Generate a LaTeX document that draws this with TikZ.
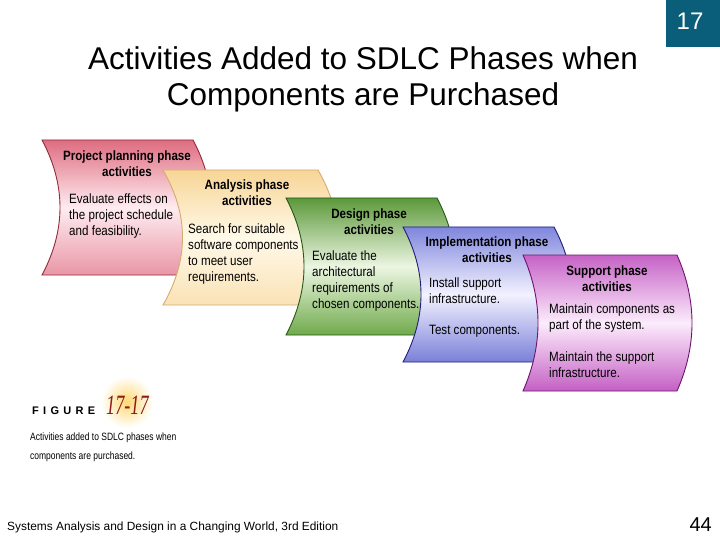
\documentclass[tikz,border=0pt]{standalone}
\usepackage{fontspec}
\setmainfont{Liberation Sans}
\newfontfamily\nar[FakeStretch=0.86]{Liberation Sans}
\newfontfamily\capfont[FakeStretch=0.8]{Liberation Sans}
\newfontfamily\serifit[FakeStretch=0.65]{Liberation Serif}
\definecolor{teal17}{HTML}{0B5E79}
\definecolor{figred}{HTML}{8E1B1B}
\definecolor{pkT}{RGB}{222,108,128}\definecolor{pkM}{RGB}{255,236,240}\definecolor{pkB}{RGB}{232,150,166}\definecolor{pkD}{RGB}{150,40,60}
\definecolor{ylT}{RGB}{247,213,150}\definecolor{ylM}{RGB}{255,249,232}\definecolor{ylB}{RGB}{250,226,182}\definecolor{ylD}{RGB}{212,172,110}
\definecolor{grT}{RGB}{92,152,58}\definecolor{grM}{RGB}{236,246,226}\definecolor{grB}{RGB}{112,170,76}\definecolor{grD}{RGB}{38,88,20}
\definecolor{blT}{RGB}{128,134,220}\definecolor{blM}{RGB}{242,242,255}\definecolor{blB}{RGB}{122,128,216}\definecolor{blD}{RGB}{30,30,120}
\definecolor{puT}{RGB}{198,98,198}\definecolor{puM}{RGB}{252,236,252}\definecolor{puB}{RGB}{196,96,196}\definecolor{puD}{RGB}{110,20,110}
\tikzset{
  cardbase/.style={line width=0.9pt},
  pinkcard/.style={cardbase, draw=pkD, top color=pkT, bottom color=pkB, middle color=pkM},
  yellowcard/.style={cardbase, draw=ylD, top color=ylT, bottom color=ylB, middle color=ylM},
  greencard/.style={cardbase, draw=grD, top color=grT, bottom color=grB, middle color=grM},
  bluecard/.style={cardbase, draw=blD, top color=blT, bottom color=blB, middle color=blM},
  purplecard/.style={cardbase, draw=puD, top color=puT, bottom color=puB, middle color=puM},
  head/.style={anchor=north, inner sep=0pt, align=center, font=\nar\bfseries\fontsize{13.5}{16}\selectfont},
  body/.style={anchor=north west, inner sep=0pt, align=left, font=\nar\fontsize{13.5}{16}\selectfont},
}
\newcommand{\drawcard}[6]{% style, x0, y0, w, h, bulge
  \path[#1] (#2,#3) -- ({#2+#4},#3)
    .. controls ({#2+#4+#6},{#3+#5/3}) and ({#2+#4+#6},{#3+2*#5/3}) .. ({#2+#4},{#3+#5})
    -- (#2,{#3+#5})
    .. controls ({#2+#6},{#3+2*#5/3}) and ({#2+#6},{#3+#5/3}) .. (#2,#3) -- cycle;}
\newcommand{\fr}{\rule{0pt}{10pt}}
\begin{document}
\begin{tikzpicture}[x=1pt,y=-1pt]
\useasboundingbox (0,0) rectangle (720,540);
\fill[white] (0,0) rectangle (720,540);

% page number box
\fill[teal17] (666,0) rectangle (720,47);
\node[text=white, font=\fontsize{24}{28}\selectfont] (chap) at (690,21) {17};

% title
\node[anchor=base, inner sep=0pt, font=\fontsize{31.5}{38}\selectfont] (title1) at (363,69.5) {Activities Added to SDLC Phases when};
\node[anchor=base, inner sep=0pt, font=\fontsize{31.5}{38}\selectfont] (title2) at (363,106) {Components are Purchased};

% cards
\drawcard{pinkcard}{42}{140}{151}{135}{24}
\node[head] (h1) at (127,151) {Project planning phase\\activities};
\node[body] (b1) at (69,193.5) {\fr Evaluate effects on\\the project schedule\\and feasibility.};

\drawcard{yellowcard}{163}{170}{155}{135}{26}
\node[head] (h2) at (247,180) {Analysis phase\\activities};
\node[body] (b2) at (188,223.5) {\fr Search for suitable\\software components\\to meet user\\requirements.};

\drawcard{greencard}{286}{198}{151}{137}{24}
\node[head] (h3) at (369,209) {Design phase\\activities};
\node[body] (b3) at (312,250.5) {\fr Evaluate the\\architectural\\requirements of\\chosen components.};

\drawcard{bluecard}{403}{227}{151}{135}{24}
\node[head] (h4) at (487,237) {Implementation phase\\activities};
\node[body] (b4) at (429,277.5) {\fr Install support\\infrastructure.\\[15pt]Test components.};

\drawcard{purplecard}{523}{255}{154}{136}{20}
\node[head] (h5) at (607,266) {Support phase\\activities};
\node[body] (b5) at (549,303.5) {\fr Maintain components as\\part of the system.\\[16pt]Maintain the support\\infrastructure.};

% figure label
\shade[inner color=yellow!45!orange!55!white, outer color=white] (127,402) circle (26);
\node[anchor=west, inner sep=0pt, font=\bfseries\fontsize{11}{13}\selectfont] (figword) at (32,411)
  {F\hspace{4.3pt}I\hspace{4.3pt}G\hspace{4.3pt}U\hspace{4.3pt}R\hspace{4.3pt}E};
\node[anchor=base west, inner sep=0pt, text=figred, font=\serifit\itshape\fontsize{28}{30}\selectfont] (fignum) at (106,414) {17-17};
\node[anchor=north west, inner sep=0pt, align=left, font=\capfont\fontsize{10.6}{19}\selectfont] (figcap) at (30,431)
  {\rule{0pt}{9pt}Activities added to SDLC phases when\\components are purchased.};

% footer
\node[anchor=west, inner sep=0pt, font=\fontsize{11.9}{13}\selectfont] (foot) at (7,527)
  {Systems Analysis and Design in a Changing World, 3rd Edition};
\node[anchor=east, inner sep=0pt, font=\fontsize{20}{24}\selectfont] (pg) at (712,525) {44};
\end{tikzpicture}
\end{document}
